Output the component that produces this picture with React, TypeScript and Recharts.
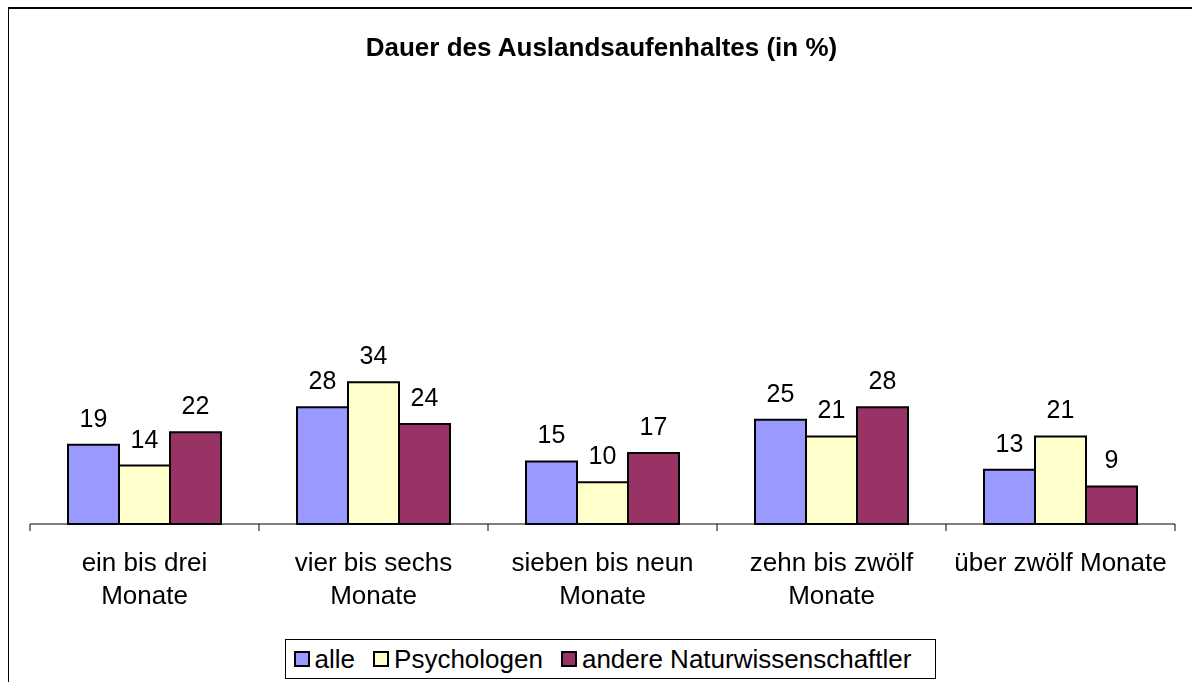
import React from 'react';
import { BarChart, Bar, XAxis, YAxis, Legend, LabelList } from 'recharts';

const categories = [
  'ein bis drei\nMonate',
  'vier bis sechs\nMonate',
  'sieben bis neun\nMonate',
  'zehn bis zwölf\nMonate',
  'über zwölf Monate',
];
const alle = [19, 28, 15, 25, 13];
const psychologen = [14, 34, 10, 21, 21];
const andere = [22, 24, 17, 28, 9];

const seriesNames = ['alle', 'Psychologen', 'andere Naturwissenschaftler'];
const seriesColors = ['#9999FF', '#FFFFCC', '#993366'];

const FONT = '"Liberation Sans", Arial, sans-serif';

const data = categories.map((cat, i) => ({
  cat,
  alle: alle[i],
  psychologen: psychologen[i],
  andere: andere[i],
}));

// category labels wrapped onto two lines, plus tick marks between categories
const CategoryTick = (props: any) => {
  const { x, y, payload, index, visibleTicksCount } = props;
  const half = payload?.offset ?? 114.5;
  const lines = String(payload.value).split('\n');
  const last = index === (visibleTicksCount ?? categories.length) - 1;
  return (
    <g>
      <line x1={x - half} y1={y} x2={x - half} y2={y + 7} stroke="#000" strokeWidth={1} />
      {last && <line x1={x + half} y1={y} x2={x + half} y2={y + 7} stroke="#000" strokeWidth={1} />}
      <text textAnchor="middle" fontFamily={FONT} fontSize={26} fill="#000">
        {lines.map((l, i) => (
          <tspan key={i} x={x} y={y + 47 + i * 33}>{l}</tspan>
        ))}
      </text>
    </g>
  );
};

const LegendBox = () => (
  <div
    style={{
      display: 'inline-flex',
      alignItems: 'center',
      border: '1px solid #000',
      padding: '0 24px 0 8px',
      height: 38,
      background: '#fff',
      fontFamily: FONT,
      fontSize: 26,
      marginLeft: 29,
    }}
  >
    {seriesNames.map((name, i) => (
      <span key={name} style={{ display: 'inline-flex', alignItems: 'center', marginRight: i < 2 ? 18 : 0 }}>
        <span
          style={{
            display: 'inline-block',
            width: 12,
            height: 12,
            border: '2px solid #000',
            background: seriesColors[i],
            marginRight: 5,
          }}
        />
        {name}
      </span>
    ))}
  </div>
);

export default function App() {
  return (
    <div>
      <div
        style={{
          position: 'fixed',
          left: 8,
          top: 7,
          width: 1200,
          height: 700,
          borderTop: '2px solid #000',
          borderLeft: '1px solid #000',
        }}
      />
      <div
        style={{
          position: 'fixed',
          left: 0,
          top: 0,
          width: 1192,
          height: 682,
        }}
      >
        <div
          style={{
            position: 'absolute',
            top: 32,
            left: 0,
            width: 1203,
            textAlign: 'center',
            fontFamily: FONT,
            fontWeight: 'bold',
            fontSize: 26,
          }}
        >
          Dauer des Auslandsaufenhaltes (in %)
        </div>
        <BarChart
          width={1192}
          height={682}
          data={data}
          margin={{ top: 107, right: 17, left: 30, bottom: 3 }}
          barCategoryGap={38}
          barGap={0}
        >
          <XAxis
            dataKey="cat"
            interval={0}
            tickLine={false}
            tickSize={0}
            tickMargin={0}
            height={115}
            axisLine={{ stroke: '#000', strokeWidth: 1 }}
            tick={<CategoryTick />}
          />
          <YAxis hide domain={[0, 100]} />
          <Legend
            verticalAlign="bottom"
            height={40}
            wrapperStyle={{ left: 0, width: 1192, textAlign: 'center' }}
            content={() => <LegendBox />}
          />
          <Bar dataKey="alle" name={seriesNames[0]} fill={seriesColors[0]} stroke="#000" strokeWidth={2} isAnimationActive={false}>
            <LabelList dataKey="alle" position="top" offset={18} fontFamily={FONT} fontSize={25} fill="#000" />
          </Bar>
          <Bar dataKey="psychologen" name={seriesNames[1]} fill={seriesColors[1]} stroke="#000" strokeWidth={2} isAnimationActive={false}>
            <LabelList dataKey="psychologen" position="top" offset={18} fontFamily={FONT} fontSize={25} fill="#000" />
          </Bar>
          <Bar dataKey="andere" name={seriesNames[2]} fill={seriesColors[2]} stroke="#000" strokeWidth={2} isAnimationActive={false}>
            <LabelList dataKey="andere" position="top" offset={18} fontFamily={FONT} fontSize={25} fill="#000" />
          </Bar>
        </BarChart>
      </div>
    </div>
  );
}
